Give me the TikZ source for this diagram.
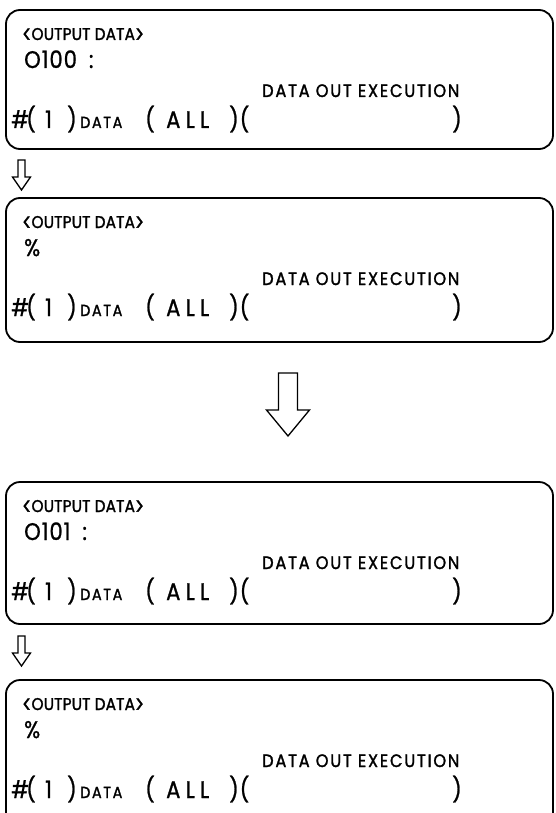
\documentclass[tikz,border=0pt]{standalone}
\usepackage{fontspec}
\usepackage{graphicx}
\setmainfont{Poppins}
\newfontfamily\headfont[LetterSpace=1,FakeBold=1.6,FakeStretch=0.9]{Poppins}
\newfontfamily\execfont[LetterSpace=10,FakeBold=1.6,FakeStretch=0.9]{Poppins}
\newfontfamily\bigfont[LetterSpace=4,FakeBold=1,FakeStretch=0.88]{Poppins}
\newfontfamily\widefont[LetterSpace=22,FakeBold=1,FakeStretch=0.88]{Poppins}

% tall angle brackets of the screen heading
\newcommand{\lab}{\raisebox{-2.8pt}{\scalebox{1.1}[1.4]{<}}}
\newcommand{\rab}{\raisebox{-2.8pt}{\scalebox{1.1}[1.4]{>}}}
% the "#( 1 ) DATA ( ALL )(   )" line, pieces in fixed columns
\newcommand{\hashline}{%
  \makebox[15pt][l]{\#}\makebox[19pt][l]{(}\makebox[22pt][l]{1}%
  \makebox[13pt][l]{)}\makebox[65pt][l]{\execfont\fontsize{16}{16}\selectfont DATA}%
  \makebox[21pt][l]{(}\makebox[63pt][l]{\widefont ALL}\makebox[223pt][l]{)(})}

\tikzset{
  panel/.style={line width=1.8pt,rounded corners=14pt},
  hollow/.style={line width=1.3pt,line join=miter},
  head/.style={anchor=base west,inner sep=0pt,font=\headfont\fontsize{17}{17}\selectfont},
  prog/.style={anchor=base west,inner sep=0pt,font=\bigfont\fontsize{24}{24}\selectfont},
  exec/.style={anchor=base west,inner sep=0pt,font=\execfont\fontsize{18}{18}\selectfont},
  cmd/.style={anchor=base west,inner sep=0pt,font=\bigfont\fontsize{24}{24}\selectfont},
}

\begin{document}
\begin{tikzpicture}[x=1pt,y=-1pt]
 \useasboundingbox (0,0) rectangle (555,813);
 % closed screens
 \foreach \t/\b/\prg [count=\i] in {10/149/O100\enspace:,198/342/\%,482/624/O101\enspace:}{
   \draw[panel] (6,\t) rectangle (553,\b);
   \node[head] (head\i) at (22,\t+30) {\lab OUTPUT DATA\rab};
   \node[prog] (prog\i) at (24,\t+58) {\prg};
   \node[exec] (exec\i) at (262,\t+87) {DATA OUT EXECUTION};
   \node[cmd] (cmd\i) at (11,\t+118) {\hashline};
 }
 % last screen, cut off at the bottom
 \draw[panel] (6,813) -- (6,680) -- (553,680) -- (553,813);
 \node[head] (head4) at (22,710) {\lab OUTPUT DATA\rab};
 \node[prog] (prog4) at (24,738) {\%};
 \node[exec] (exec4) at (262,767) {DATA OUT EXECUTION};
 \node[cmd] (cmd4) at (11,798) {\hashline};
 % small hollow arrows
 \foreach \y in {160,636}{
   \draw[hollow] (18,\y) -- (25,\y) -- (25,\y+17) -- (30.5,\y+17)
     -- (21.5,\y+30) -- (12.5,\y+17) -- (18,\y+17) -- cycle;
 }
 % big hollow arrow
 \draw[hollow] (278.5,373) -- (297.5,373) -- (297.5,410) -- (309.5,410)
   -- (288,436) -- (266.5,410) -- (278.5,410) -- cycle;
\end{tikzpicture}
\end{document}
